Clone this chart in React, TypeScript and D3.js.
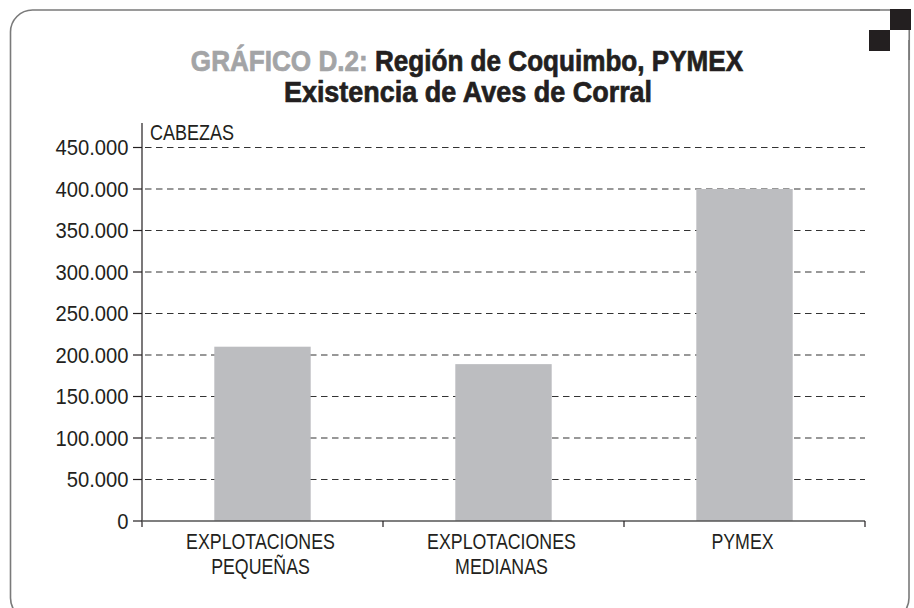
import React from "react";
import * as d3 from "d3";

const categories: string[][] = [
  ["EXPLOTACIONES", "PEQUEÑAS"],
  ["EXPLOTACIONES", "MEDIANAS"],
  ["PYMEX"],
];
const values: number[] = [210000, 189000, 400000];
const yTicks: number[] = [0, 50000, 100000, 150000, 200000, 250000, 300000, 350000, 400000, 450000];
const titlePrefix = "GRÁFICO D.2:";
const titleLine1 = " Región de Coquimbo, PYMEX";
const titleLine2 = "Existencia de Aves de Corral";
const yAxisLabel = "CABEZAS";

const W = 914;
const H = 608;
const left = 142;
const right = 865;
const top = 147.5;
const bottom = 521;

const FONT = "'Liberation Sans', Arial, sans-serif";
const INK = "#231f20";
const GREY_TITLE = "#a3a4a6";

const esLocale = d3.formatLocale({
  decimal: ",",
  thousands: ".",
  grouping: [3],
  currency: ["", " €"],
});
const fmt = esLocale.format(",d");

export default function App() {
  const keys = categories.map((c) => c.join(" "));
  const x = d3.scaleBand<string>().domain(keys).range([left, right]).padding(0);
  const y = d3.scaleLinear().domain([0, 450000]).range([bottom, top]);
  const bw = x.bandwidth();
  const barW = bw * 0.4;
  const boundaries = [left, ...keys.map((k) => (x(k) as number) + bw)];

  return (
    <svg
      width={W}
      height={H}
      style={{ position: "absolute", left: 0, top: 0, background: "#fff" }}
    >
      {/* frame */}
      <rect x={10.5} y={10} width={898.5} height={610} rx={22} ry={22} fill="none" stroke="#7a7a7a" strokeWidth={1.6} />
      <rect x={880} y={0} width={34} height={40} fill="#fff" />
      <path d="M 860 10 L 890 10 M 909.25 30 L 909.25 60" stroke="#7a7a7a" strokeWidth={1.6} fill="none" />
      <rect x={890} y={9} width={21} height={21} fill={INK} />
      <rect x={869} y={30} width={21} height={21} fill={INK} />

      {/* title */}
      <g transform="translate(467,71) scale(0.9,1)">
        <text x={0} y={0} textAnchor="middle" fontFamily={FONT} fontWeight="bold" fontSize={29} fill={INK} stroke={INK} strokeWidth={0.7}>
          <tspan fill={GREY_TITLE} stroke={GREY_TITLE}>{titlePrefix}</tspan>
          <tspan>{titleLine1}</tspan>
        </text>
      </g>
      <g transform="translate(468,102) scale(0.93,1)">
        <text x={0} y={0} textAnchor="middle" fontFamily={FONT} fontWeight="bold" fontSize={29} fill={INK} stroke={INK} strokeWidth={0.7}>
          {titleLine2}
        </text>
      </g>

      {/* gridlines */}
      {yTicks.filter((t) => t > 0).map((t) => (
        <line key={"g" + t} x1={left} x2={right} y1={y(t)} y2={y(t)} stroke="#333" strokeWidth={1.2} strokeDasharray="6.5,4.5" strokeDashoffset={-3} />
      ))}

      {/* bars */}
      {keys.map((k, i) => (
        <rect key={k} x={(x(k) as number) + (bw - barW) / 2} y={y(values[i])} width={barW} height={bottom - y(values[i])} fill="#bcbdc0" />
      ))}

      {/* y axis */}
      <line x1={left} x2={left} y1={123} y2={527} stroke={INK} strokeWidth={1.2} />
      {yTicks.map((t) => (
        <g key={"t" + t}>
          <line x1={133} x2={left} y1={y(t)} y2={y(t)} stroke={INK} strokeWidth={1.2} />
          <g transform={`translate(128.5,${y(t) + 7.5}) scale(0.94,1)`}>
            <text x={0} y={0} textAnchor="end" fontFamily={FONT} fontSize={21.5} fill={INK}>
              {fmt(t)}
            </text>
          </g>
        </g>
      ))}
      <g transform="translate(150,140) scale(0.8,1)">
        <text x={0} y={0} fontFamily={FONT} fontSize={22.5} fill={INK}>{yAxisLabel}</text>
      </g>

      {/* x axis */}
      <line x1={left} x2={right} y1={bottom} y2={bottom} stroke="#555" strokeWidth={1.6} />
      {boundaries.slice(1).map((b, i) => (
        <line key={"xt" + i} x1={b} x2={b} y1={bottom} y2={bottom + 6} stroke={INK} strokeWidth={1.2} />
      ))}
      {keys.map((k, i) => (
        <g key={"l" + k} transform={`translate(${(x(k) as number) + bw / 2 - 2},0) scale(0.79,1)`}>
          <text textAnchor="middle" fontFamily={FONT} fontSize={22.5} fill={INK}>
            {categories[i].map((line, j) => (
              <tspan key={j} x={0} y={549.5 + j * 25}>{line}</tspan>
            ))}
          </text>
        </g>
      ))}
    </svg>
  );
}
